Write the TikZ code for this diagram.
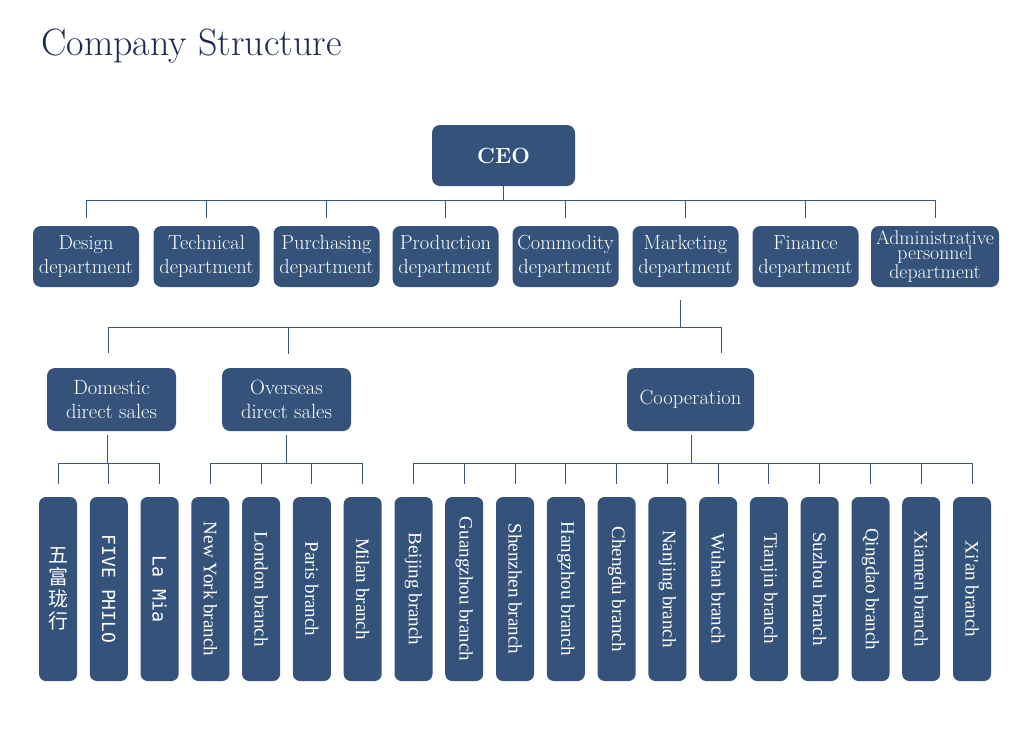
\documentclass[tikz,border=0pt]{standalone}
\usepackage{fontspec}
\usetikzlibrary{calc}
\newfontfamily\brfont{Liberation Serif}
\newfontfamily\monof{DejaVu Sans Mono}
\newfontfamily\cjk{Noto Sans CJK SC}
\definecolor{boxc}{RGB}{52,82,122}
\definecolor{linec}{RGB}{58,86,124}
\definecolor{titlec}{RGB}{30,42,80}
\tikzset{
  box/.style={fill=boxc, rounded corners=8pt, text=white, align=center, inner sep=0pt},
  dept/.style={box, minimum width=106pt, minimum height=61pt, font=\fontsize{20.4}{23.5}\selectfont},
  midbox/.style={box, minimum width=129pt, minimum height=63pt, font=\fontsize{20.6}{24}\selectfont},
  leaf/.style={box, minimum width=38pt, minimum height=184pt, rounded corners=7pt, font=\brfont\fontsize{19}{22}\selectfont},
  conn/.style={draw=linec, line width=1pt},
}
\begin{document}
\begin{tikzpicture}[x=1pt,y=-1pt]
\path[use as bounding box, fill=white] (0,0) rectangle (1028,736);
\node[anchor=base west, text=titlec, font=\fontsize{38}{44}\selectfont, inner sep=0pt] (title) at (41,55) {Company Structure};
\node[box, minimum width=143pt, minimum height=61pt, font=\bfseries\fontsize{22}{26}\selectfont] (ceo) at (503.5,155.5) {CEO};
% departments
\node[dept] (d1) at (86,256.5) {Design\\department};
\node[dept] (d2) at (206.5,256.5) {Technical\\department};
\node[dept] (d3) at (326.5,256.5) {Purchasing\\department};
\node[dept] (d4) at (445.5,256.5) {Production\\department};
\node[dept] (d5) at (565.5,256.5) {Commodity\\department};
\node[dept] (d6) at (685.5,256.5) {Marketing\\department};
\node[dept] (d7) at (805.5,256.5) {Finance\\department};
\node[dept, minimum width=128pt, font=\fontsize{19.8}{13.5}\selectfont] (d8) at (935,256.5) {Administrative\\personnel\\department};
% middle level
\node[midbox] (dom) at (111.5,399.5) {Domestic\\direct sales};
\node[midbox] (ovs) at (286.5,399.5) {Overseas\\direct sales};
\node[midbox, minimum width=127pt] (coop) at (690.5,399.5) {Cooperation};
% leaves
\node[leaf, font=\cjk\fontsize{20}{22}\selectfont] (l1) at (58,589) {五\\富\\珑\\行};
\node[leaf, font=\monof\fontsize{18}{20}\selectfont] (l2) at (108.8,589) {\rotatebox{-90}{FIVE PHILO}};
\node[leaf, font=\monof\fontsize{18.5}{20}\selectfont] (l3) at (159.6,589) {\rotatebox{-90}{La Mia}};
\node[leaf] (l4) at (210.3,589) {\rotatebox{-90}{New York branch}};
\node[leaf] (l5) at (261.1,589) {\rotatebox{-90}{London branch}};
\node[leaf] (l6) at (311.9,589) {\rotatebox{-90}{Paris branch}};
\node[leaf] (l7) at (362.7,589) {\rotatebox{-90}{Milan branch}};
\node[leaf] (l8) at (413.5,589) {\rotatebox{-90}{Beijing branch}};
\node[leaf] (l9) at (464.2,589) {\rotatebox{-90}{Guangzhou branch}};
\node[leaf] (l10) at (515,589) {\rotatebox{-90}{Shenzhen branch}};
\node[leaf] (l11) at (565.8,589) {\rotatebox{-90}{Hangzhou branch}};
\node[leaf] (l12) at (616.6,589) {\rotatebox{-90}{Chengdu branch}};
\node[leaf] (l13) at (667.4,589) {\rotatebox{-90}{Nanjing branch}};
\node[leaf] (l14) at (718.1,589) {\rotatebox{-90}{Wuhan branch}};
\node[leaf] (l15) at (768.9,589) {\rotatebox{-90}{Tianjin branch}};
\node[leaf] (l16) at (819.7,589) {\rotatebox{-90}{Suzhou branch}};
\node[leaf] (l17) at (870.5,589) {\rotatebox{-90}{Qingdao branch}};
\node[leaf] (l18) at (921.2,589) {\rotatebox{-90}{Xiamen branch}};
\node[leaf] (l19) at (972,589) {\rotatebox{-90}{Xi'an branch}};
% connectors
\draw[conn] (ceo.south) -- ++(0,14.5) coordinate (b0);
\foreach \n in {d1,d2,d3,d4,d5,d6,d7,d8} \draw[conn] (b0) -| ($(\n.north)+(0,-8)$);
\draw[conn] ($(d6.south)+(-5,13)$) -- ++(0,27) coordinate (b1);
\draw[conn] (b1) -| ($(dom.north)+(-3.5,-15)$);
\draw[conn] (b1) -| ($(ovs.north)+(1.5,-14)$);
\draw[conn] (b1) -| ($(coop.north)+(30.5,-15)$);
\draw[conn] ($(dom.south)+(-4.5,4)$) -- ++(0,28) coordinate (b2);
\foreach \n in {l1,l2,l3} \draw[conn] (b2) -| ($(\n.north)+(0,-13)$);
\draw[conn] ($(ovs.south)+(-0.5,4)$) -- ++(0,28) coordinate (b3);
\foreach \n in {l4,l5,l6,l7} \draw[conn] (b3) -| ($(\n.north)+(0,-13)$);
\draw[conn] ($(coop.south)+(0.5,4)$) -- ++(0,28) coordinate (b4);
\foreach \n in {l8,l9,l10,l11,l12,l13,l14,l15,l16,l17,l18,l19} \draw[conn] (b4) -| ($(\n.north)+(0,-13)$);
\end{tikzpicture}
\end{document}
